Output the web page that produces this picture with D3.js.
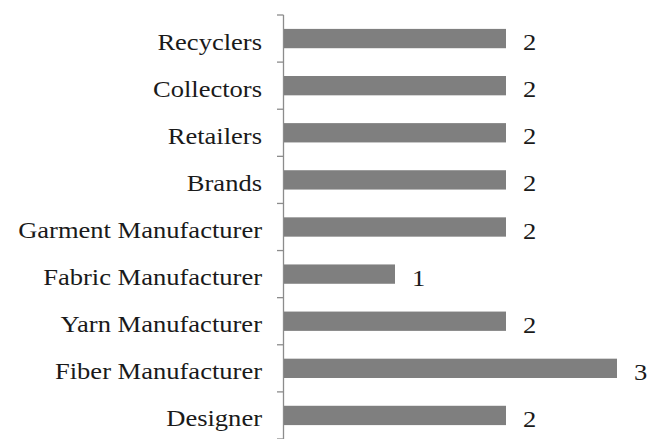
<!DOCTYPE html>
<html>
<head>
<meta charset="utf-8">
<script src="https://cdn.jsdelivr.net/npm/d3@7"></script>
<style>
  body { margin: 0; background: #fff; }
</style>
</head>
<body>
<div id="chart"></div>
<script>
// categories listed top to bottom
const categories = ['Recyclers', 'Collectors', 'Retailers', 'Brands', 'Garment Manufacturer',
  'Fabric Manufacturer', 'Yarn Manufacturer', 'Fiber Manufacturer', 'Designer'];
const values = [2, 2, 2, 2, 2, 1, 2, 3, 2];

const width = 658;
const height = 439;
const stretch = 1.18; // the reference text is a bit wider than plain Times

const svg = d3.select('#chart').append('svg')
  .attr('width', width)
  .attr('height', height);

const xScale = d3.scaleLinear().domain([0, 3]).range([284, 617]);
const yScale = d3.scaleBand().domain(categories).range([15, 439]).paddingInner(0.59).paddingOuter(0.295);

// axis line and ticks at band boundaries
const step = yScale.step();
const yTop = yScale.range()[0];
svg.append('line')
  .attr('x1', xScale(0) - 0.5).attr('x2', xScale(0) - 0.5)
  .attr('y1', yTop).attr('y2', height)
  .attr('stroke', '#8c8c8c').attr('stroke-width', 1.3);

svg.selectAll('.tick')
  .data(d3.range(categories.length + 1))
  .enter()
  .append('line')
  .attr('class', 'tick')
  .attr('x1', xScale(0) - 7).attr('x2', xScale(0) - 0.5)
  .attr('y1', i => yTop + i * step).attr('y2', i => yTop + i * step)
  .attr('stroke', '#8c8c8c').attr('stroke-width', 1.3);

// bars
svg.selectAll('rect')
  .data(values)
  .enter()
  .append('rect')
  .attr('x', xScale(0))
  .attr('y', (d, i) => yScale(categories[i]))
  .attr('width', d => xScale(d) - xScale(0))
  .attr('height', yScale.bandwidth())
  .attr('fill', '#7f7f7f');

const mid = d => yScale(d) + yScale.bandwidth() / 2;

// category labels
svg.selectAll('.cat')
  .data(categories)
  .enter()
  .append('text')
  .attr('class', 'cat')
  .attr('transform', d => `translate(${xScale(0) - 22},${mid(d) + 11}) scale(${stretch},1)`)
  .attr('text-anchor', 'end')
  .style('font-family', '"Liberation Serif"')
  .style('font-size', '22.5px')
  .style('fill', '#1a1a1a')
  .text(d => d);

// value labels
svg.selectAll('.val')
  .data(values)
  .enter()
  .append('text')
  .attr('class', 'val')
  .attr('transform', (d, i) => `translate(${xScale(d) + 17},${mid(categories[i]) + 11.5}) scale(${stretch},1)`)
  .style('font-family', '"Liberation Serif"')
  .style('font-size', '22.5px')
  .style('fill', '#1a1a1a')
  .text(d => d);
</script>
</body>
</html>
